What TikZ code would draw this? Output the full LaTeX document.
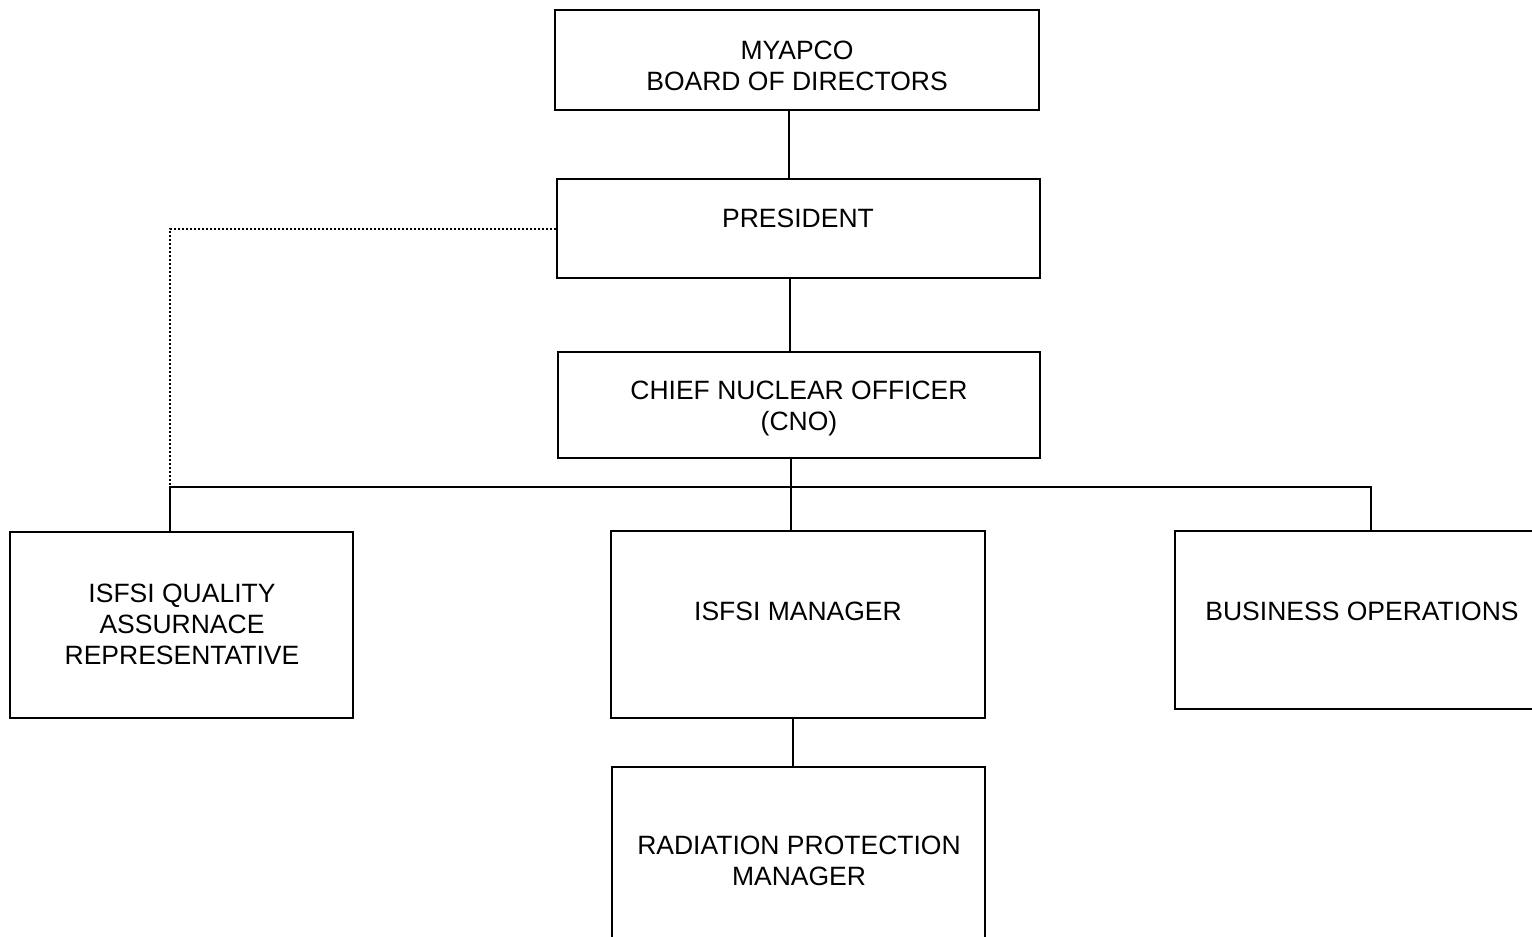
\documentclass[tikz,border=0pt]{standalone}
\usepackage{fontspec}
\setmainfont{Liberation Sans}
\begin{document}
\begin{tikzpicture}[x=0.5pt,y=-0.5pt,
  orgbox/.style={draw, line width=1pt, rectangle, inner sep=0pt},
  lbl/.style={inner sep=0pt, align=center, font=\fontsize{13.25pt}{15.5pt}\selectfont},
  link/.style={line width=1pt},
  dotlink/.style={line width=1pt, dash pattern=on 1pt off 1pt}]
\useasboundingbox (0,0) rectangle (1532,937);
\clip (0,0) rectangle (1532,937);
% boxes
\node[orgbox, minimum width=242pt, minimum height=50pt] (board) at (797,60) {};
\node[orgbox, minimum width=241.5pt, minimum height=49.5pt] (pres) at (798.5,228.5) {};
\node[orgbox, minimum width=241pt, minimum height=53pt] (cno) at (799,405) {};
\node[orgbox, minimum width=171.5pt, minimum height=93pt] (qa) at (181.5,625) {};
\node[orgbox, minimum width=187pt, minimum height=93.5pt] (mgr) at (798,624.5) {};
\node[orgbox, minimum width=187pt, minimum height=89pt] (bo) at (1362,620) {};
\node[orgbox, minimum width=186.5pt, minimum height=116.5pt] (rp) at (798.5,883.5) {};
% texts
\node[lbl] (boardT) at (797,65.5) {MYAPCO\\BOARD OF DIRECTORS};
\node[lbl] (presT) at (798,218) {PRESIDENT};
\node[lbl] (cnoT) at (799,408.5) {CHIEF NUCLEAR OFFICER\\(CNO)};
\node[lbl] (qaT) at (182,624) {ISFSI QUALITY\\ASSURNACE\\REPRESENTATIVE};
\node[lbl] (mgrT) at (798,611) {ISFSI MANAGER};
\node[lbl] (boT) at (1362,611) {BUSINESS OPERATIONS};
\node[lbl] (rpT) at (799,860.5) {RADIATION PROTECTION\\MANAGER};
% connector coordinates
\coordinate (s1) at (789,0);
\coordinate (s2) at (790,0);
\coordinate (busL) at (170,487);
\coordinate (busM) at (791,487);
\coordinate (busR) at (1371,487);
\coordinate (s3) at (793,0);
% connectors
\draw[link] (board.south -| s1) -- (pres.north -| s1);
\draw[link] (pres.south -| s2) -- (cno.north -| s2);
\draw[link] (cno.south -| busM) -- (busM) -- (mgr.north -| busM);
\draw[link] (qa.north -| busL) -- (busL) -- (busR) -- (bo.north -| busR);
\draw[link] (mgr.south -| s3) -- (rp.north -| s3);
\draw[dotlink] (pres.west) -| (busL);
\end{tikzpicture}
\end{document}
